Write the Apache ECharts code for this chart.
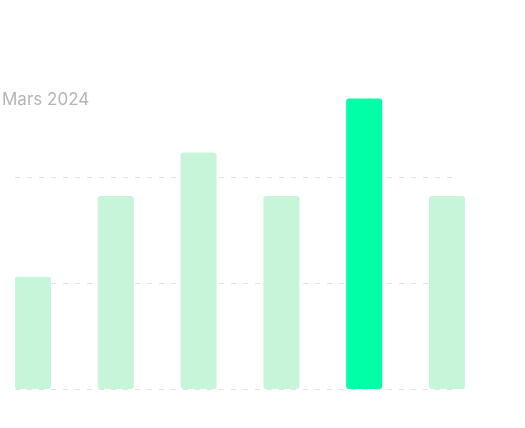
<!DOCTYPE html>
<html>
<head>
<meta charset="utf-8">
<style>html,body{margin:0;padding:0;background:#fff;}#c{width:525px;height:428px;}</style>
<script src="https://cdn.jsdelivr.net/npm/echarts@6/dist/echarts.min.js"></script>
</head>
<body>
<div id="c"></div>
<script>
var categories = ['1', '2', '3', '4', '5', '6'];
var values = [106, 182, 223, 182, 274, 182];
var highlightIndex = 4;
var titleText = 'Mars 2024';

var chart = echarts.init(document.getElementById('c'), null, {renderer: 'canvas'});
chart.setOption({
  animation: false,
  title: {
    text: titleText, left: 2, top: 91, padding: 0,
    textStyle: {color: '#b5b5b5', fontSize: 17, fontWeight: 'normal', fontFamily: 'Inter'}
  },
  grid: [
    {left: 15, right: 72, top: 177, height: 212},
    {left: 33, right: 78, top: 71, height: 318}
  ],
  xAxis: [
    {gridIndex: 0, type: 'category', data: categories, show: false},
    {gridIndex: 1, type: 'category', data: categories, boundaryGap: false,
     axisLine: {show: false}, axisTick: {show: false}, axisLabel: {show: false}, splitLine: {show: false}}
  ],
  yAxis: [
    {gridIndex: 0, type: 'value', min: 0, max: 200, interval: 100,
     axisLine: {show: false}, axisTick: {show: false}, axisLabel: {show: false},
     splitLine: {show: true, lineStyle: {color: '#e2e2e2', type: [5, 7], width: 1}}},
    {gridIndex: 1, type: 'value', min: 0, max: 300, interval: 100, show: false, splitLine: {show: false}}
  ],
  series: [{
    type: 'bar', xAxisIndex: 1, yAxisIndex: 1, clip: false,
    barWidth: 36,
    data: values.map(function (v, i) {
      return {value: v, itemStyle: {color: i === highlightIndex ? '#00FFA6' : '#C6F5DA'}};
    }),
    itemStyle: {borderRadius: 3}
  }]
});
</script>
</body>
</html>
